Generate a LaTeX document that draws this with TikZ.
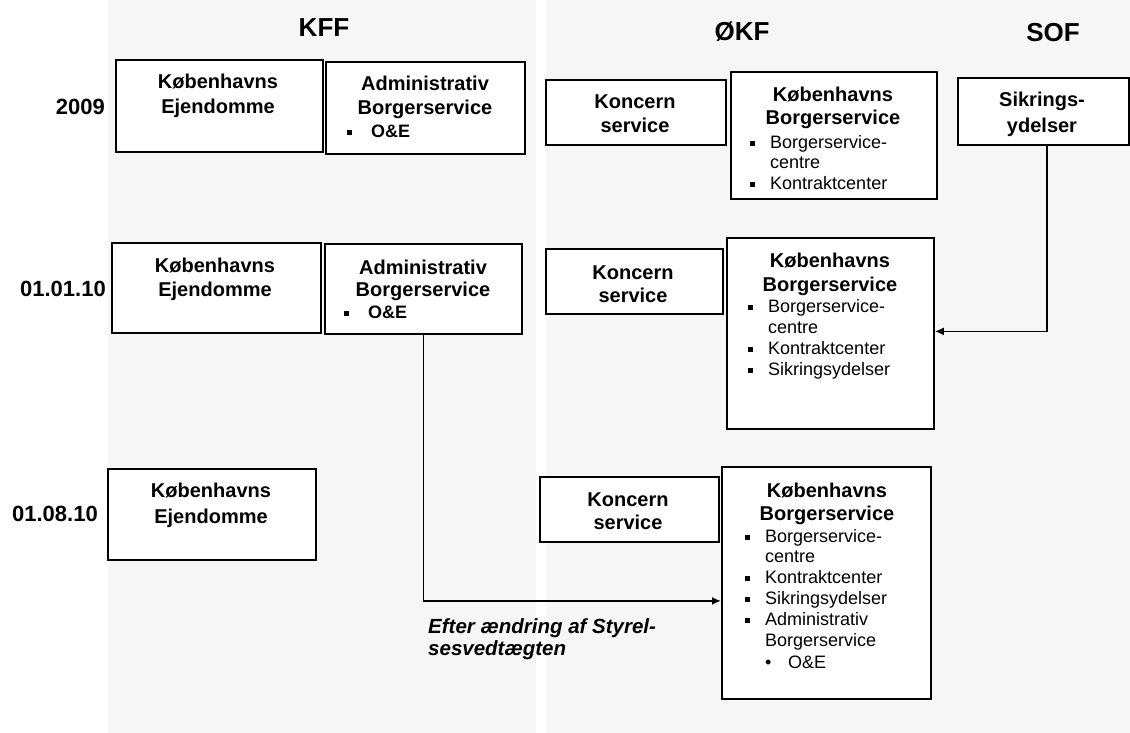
\documentclass[tikz,border=0pt]{standalone}
\usepackage{fontspec}
\setmainfont{Liberation Sans}
\usetikzlibrary{arrows.meta}
\newcommand\sqbul{\rule[2.5pt]{5pt}{5pt}}
\newcommand\bitem[1]{\makebox[20pt][l]{\sqbul}#1}
\newcommand\ritem[1]{\makebox[23pt][l]{\textbullet}#1}
\tikzset{
  box/.style={draw, line width=1.8pt, fill=white, anchor=north west, inner sep=0pt},
  title/.style={font=\fontsize{26}{30}\selectfont\bfseries, anchor=base, inner sep=0pt},
  year/.style={font=\fontsize{22}{26}\selectfont\bfseries, anchor=base east, inner sep=0pt},
  hd/.style={font=\fontsize{20}{24}\selectfont\bfseries, anchor=base, inner sep=0pt},
  itm/.style={font=\fontsize{18}{21}\selectfont, anchor=base west, inner sep=0pt},
  itmb/.style={font=\fontsize{18}{21}\selectfont\bfseries, anchor=base west, inner sep=0pt},
  note/.style={font=\fontsize{20.5}{22}\selectfont\bfseries\itshape, anchor=base west, inner sep=0pt},
  conn/.style={line width=1.8pt, -{Latex[length=9pt,width=8pt]}},
  bg/.style={fill=black!3.5, draw=none}
}
\begin{document}
\begin{tikzpicture}[x=1pt,y=-1pt]
\useasboundingbox (0,0) rectangle (1130,733);
\fill[white] (0,0) rectangle (1130,733);
\fill[bg] (108,0) rectangle (536,733);
\fill[bg] (546,0) rectangle (1130,733);

% column titles
\node[title] (tkff) at (324,37) {KFF};
\node[title] (tokf) at (742,41) {ØKF};
\node[title] (tsof) at (1053,42) {SOF};

% year labels
\node[year] (y1) at (105,115) {2009};
\node[year] (y2) at (106,296) {01.01.10};
\node[year] (y3) at (98,521) {01.08.10};

% ---------- row 2009 ----------
\node[box, minimum width=207pt, minimum height=92pt] (ke1) at (115,59) {};
\node[hd] (ke1a) at (218,89) {Københavns};
\node[hd] (ke1b) at (218,114) {Ejendomme};

\node[box, minimum width=199pt, minimum height=92pt] (ab1) at (325,61) {};
\node[hd] (ab1a) at (425,91) {Administrativ};
\node[hd] (ab1b) at (425,115) {Borgerservice};
\node[itmb] (ab1c) at (347,137.5) {\makebox[24pt][l]{\sqbul}O\&E};

\node[box, minimum width=180pt, minimum height=65pt] (ks1) at (545,79) {};
\node[hd] (ks1a) at (635,109) {Koncern};
\node[hd] (ks1b) at (635,133) {service};

\node[box, minimum width=206pt, minimum height=127pt] (kb1) at (730,71) {};
\node[hd] (kb1a) at (833,102) {Københavns};
\node[hd] (kb1b) at (833,125) {Borgerservice};
\node[itm] (kb1c) at (750,148.5) {\bitem{Borgerservice-}};
\node[itm] (kb1d) at (770,168.5) {centre};
\node[itm] (kb1e) at (750,189.5) {\bitem{Kontraktcenter}};

\node[box, minimum width=171pt, minimum height=67pt] (sik) at (957,77) {};
\node[hd] (sika) at (1042,107) {Sikrings-};
\node[hd] (sikb) at (1042,133) {ydelser};

% ---------- row 01.01.10 ----------
\node[box, minimum width=209pt, minimum height=90pt] (ke2) at (111,242) {};
\node[hd] (ke2a) at (215,272) {Københavns};
\node[hd] (ke2b) at (215,296) {Ejendomme};

\node[box, minimum width=197pt, minimum height=90pt] (ab2) at (324,243) {};
\node[hd] (ab2a) at (423,274) {Administrativ};
\node[hd] (ab2b) at (423,296) {Borgerservice};
\node[itmb] (ab2c) at (344,318.5) {\makebox[24pt][l]{\sqbul}O\&E};

\node[box, minimum width=177pt, minimum height=65pt] (ks2) at (545,248) {};
\node[hd] (ks2a) at (633,279) {Koncern};
\node[hd] (ks2b) at (633,302) {service};

\node[box, minimum width=207pt, minimum height=191pt] (kb2) at (726,237) {};
\node[hd] (kb2a) at (830,267) {Københavns};
\node[hd] (kb2b) at (830,291) {Borgerservice};
\node[itm] (kb2c) at (748,312.5) {\bitem{Borgerservice-}};
\node[itm] (kb2d) at (768,333.5) {centre};
\node[itm] (kb2e) at (748,354.5) {\bitem{Kontraktcenter}};
\node[itm] (kb2f) at (748,375.5) {\bitem{Sikringsydelser}};

% ---------- row 01.08.10 ----------
\node[box, minimum width=208pt, minimum height=91pt] (ke3) at (107,468) {};
\node[hd] (ke3a) at (211,497) {Københavns};
\node[hd] (ke3b) at (211,523) {Ejendomme};

\node[box, minimum width=179pt, minimum height=65pt] (ks3) at (539,476) {};
\node[hd] (ks3a) at (628,506) {Koncern};
\node[hd] (ks3b) at (628,529) {service};

\node[box, minimum width=209pt, minimum height=232pt] (kb3) at (721,466) {};
\node[hd] (kb3a) at (827,497) {Københavns};
\node[hd] (kb3b) at (827,520) {Borgerservice};
\node[itm] (kb3c) at (745,542.5) {\bitem{Borgerservice-}};
\node[itm] (kb3d) at (765,562.5) {centre};
\node[itm] (kb3e) at (745,583.5) {\bitem{Kontraktcenter}};
\node[itm] (kb3f) at (745,604.5) {\bitem{Sikringsydelser}};
\node[itm] (kb3g) at (745,625.5) {\bitem{Administrativ}};
\node[itm] (kb3h) at (765,646.5) {Borgerservice};
\node[itm] (kb3i) at (765,668.5) {\ritem{O\&E}};

% ---------- connectors ----------
\draw[conn] ([xshift=3.5pt]sik.south) |- ([yshift=2pt]kb2.east);
\draw[conn] (ab2.south) |- ([yshift=-18pt]kb3.west);

\node[note] (n1) at (428,633) {Efter ændring af Styrel-};
\node[note] (n2) at (428,655) {sesvedtægten};
\end{tikzpicture}
\end{document}
